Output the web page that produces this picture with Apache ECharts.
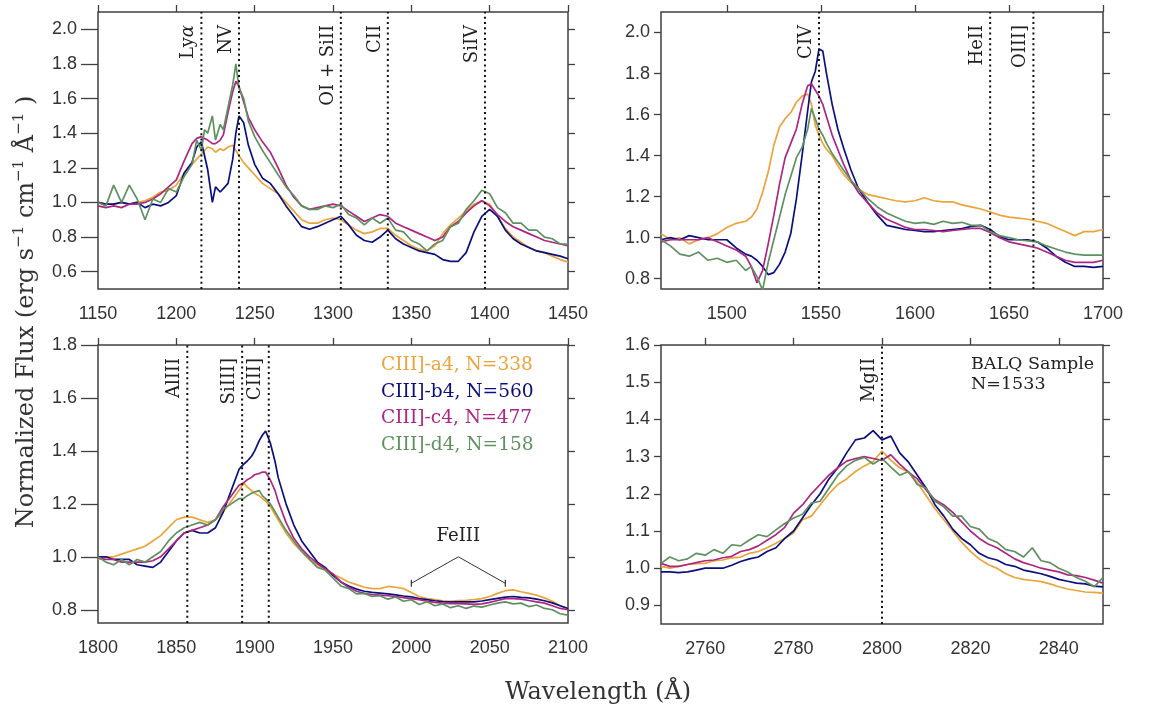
<!DOCTYPE html>
<html>
<head>
<meta charset="utf-8">
<script src="https://cdn.jsdelivr.net/npm/echarts@6/dist/echarts.min.js"></script>
<style>
  html, body { margin: 0; padding: 0; background: #fff; }
  #chart { width: 1168px; height: 709px; }
</style>
</head>
<body>
<div id="chart"></div>
<script>
// ---- data ----
// panel 1 : Ly-alpha ... SiIV region
const wave1 = [1150,1155,1160,1165,1170,1175,1180,1185,1190,1195,1200,1205,1210,
  1213,1216,1218,1220,1223,1225,1228,1230,1233,1236,1238,1240,1243,1246,
  1250,1255,1260,1265,1270,1275,1280,1285,1290,1295,
  1300,1305,1310,1315,1320,1325,1330,1335,1340,1345,1350,1355,1360,1365,1370,1375,1380,1385,1390,1395,1400,1405,1410,1415,1420,1425,1430,1435,1440,1445,1450]
const a1 = [1.00,0.99,0.99,1.00,0.99,1.00,1.01,1.03,1.06,1.07,1.10,1.17,1.22,
  1.25,1.28,1.30,1.32,1.31,1.29,1.31,1.30,1.32,1.33,1.30,1.27,1.23,1.20,
  1.16,1.11,1.08,1.05,1.00,0.95,0.90,0.88,0.88,0.90,
  0.91,0.90,0.87,0.84,0.82,0.83,0.85,0.85,0.81,0.78,0.75,0.73,0.72,0.75,0.82,0.87,0.91,0.95,0.99,1.01,0.99,0.92,0.85,0.80,0.77,0.74,0.72,0.71,0.69,0.67,0.655]
const b1 = [1.00,0.99,0.99,1.00,0.99,1.00,0.97,0.99,0.98,1.00,1.04,1.17,1.23,
  1.32,1.35,1.27,1.19,1.00,1.09,1.06,1.08,1.11,1.25,1.40,1.50,1.46,1.33,
  1.22,1.14,1.11,1.05,0.98,0.92,0.86,0.845,0.86,0.88,
  0.90,0.92,0.87,0.81,0.78,0.77,0.80,0.84,0.79,0.76,0.74,0.72,0.71,0.70,0.67,0.66,0.66,0.71,0.83,0.92,0.96,0.92,0.84,0.79,0.76,0.74,0.72,0.71,0.70,0.69,0.675]
const c1 = [0.98,0.97,0.98,0.97,0.99,0.99,1.00,1.02,1.05,1.09,1.13,1.24,1.34,
  1.37,1.38,1.37,1.36,1.34,1.34,1.36,1.39,1.52,1.64,1.70,1.67,1.58,1.49,
  1.42,1.35,1.29,1.20,1.10,1.03,0.98,0.96,0.97,0.98,
  0.99,0.98,0.95,0.92,0.89,0.91,0.93,0.92,0.88,0.86,0.84,0.82,0.80,0.78,0.80,0.86,0.89,0.94,0.98,1.01,0.98,0.93,0.89,0.86,0.84,0.82,0.80,0.78,0.77,0.76,0.75]
const d1 = [1.00,0.98,1.10,1.00,1.10,1.02,0.90,1.02,1.00,1.08,1.06,1.15,1.22,
  1.36,1.30,1.42,1.40,1.50,1.36,1.45,1.42,1.55,1.68,1.80,1.66,1.60,1.47,
  1.38,1.30,1.23,1.16,1.09,1.04,0.98,0.96,0.96,0.98,
  0.97,0.99,0.93,0.91,0.87,0.91,0.88,0.91,0.84,0.83,0.78,0.76,0.72,0.76,0.78,0.86,0.88,0.96,1.01,1.07,1.05,0.97,0.94,0.88,0.88,0.84,0.84,0.80,0.79,0.76,0.76]

// panel 2 : CIV region
const wave2 = [1465,1470,1475,1480,1485,1490,1495,1500,1505,1510,
  1513,1516,1519,1522,1525,1528,1531,1534,1537,1540,1543,
  1545,1547,1549,1551,1553,1556,1559,1562,1566,1570,
  1575,1580,1585,1590,1595,1600,1605,1610,1615,1620,1625,1630,1635,1640,1645,1650,1655,1660,1665,1670,1675,1680,1685,1690,1695,1700]
const a2 = [1.02,0.99,1.00,0.97,0.99,1.00,1.02,1.05,1.07,1.08,
  1.10,1.14,1.22,1.32,1.45,1.54,1.58,1.61,1.66,1.69,1.70,
  1.65,1.55,1.50,1.46,1.43,1.40,1.35,1.31,1.27,1.235,
  1.21,1.20,1.19,1.18,1.175,1.18,1.195,1.18,1.175,1.175,1.16,1.15,1.14,1.125,1.11,1.10,1.095,1.09,1.08,1.07,1.05,1.03,1.01,1.03,1.03,1.04]
const b2 = [0.99,1.00,0.99,1.01,1.00,0.99,0.99,0.99,0.95,0.92,
  0.91,0.89,0.86,0.82,0.83,0.87,0.93,1.02,1.19,1.40,1.62,
  1.76,1.81,1.92,1.91,1.80,1.65,1.53,1.44,1.33,1.24,
  1.17,1.11,1.06,1.05,1.04,1.035,1.03,1.03,1.035,1.04,1.045,1.055,1.06,1.04,1.005,0.99,0.99,0.99,0.98,0.95,0.91,0.88,0.86,0.86,0.855,0.86]
const c2 = [0.98,0.99,0.99,0.99,0.99,1.00,0.98,0.96,0.94,0.91,
  0.86,0.78,0.84,0.97,1.11,1.26,1.39,1.46,1.53,1.65,1.74,
  1.75,1.72,1.69,1.65,1.59,1.50,1.43,1.36,1.28,1.22,
  1.17,1.12,1.09,1.07,1.05,1.04,1.04,1.035,1.03,1.035,1.04,1.045,1.045,1.025,1.00,0.98,0.97,0.96,0.95,0.93,0.91,0.89,0.88,0.88,0.88,0.89]
const d2 = [0.99,0.96,0.92,0.91,0.93,0.89,0.90,0.88,0.89,0.84,
  0.86,0.81,0.745,0.88,0.99,1.10,1.21,1.30,1.39,1.44,1.53,
  1.63,1.58,1.53,1.50,1.46,1.41,1.37,1.33,1.28,1.24,
  1.19,1.15,1.12,1.10,1.08,1.07,1.075,1.065,1.08,1.07,1.075,1.06,1.06,1.03,1.01,1.00,0.99,0.985,0.98,0.96,0.945,0.93,0.92,0.915,0.915,0.915]

// panel 3 : CIII] region
const wave3 = [1800,1805,1810,1815,1820,1825,1830,1835,1840,1845,1850,1855,1860,1865,1870,1875,1880,1885,
  1890,1893,1895,1898,1900,1903,1905,1907,1910,1913,1915,
  1920,1925,1930,1935,1940,1945,1950,1955,1960,1965,1970,1975,1980,1985,1990,1995,2000,2005,2010,2015,2020,2025,2030,2035,2040,2045,2050,2055,2060,2065,2070,2075,2080,2085,2090,2095,2100]
const a3 = [0.99,1.00,1.00,1.01,1.02,1.03,1.04,1.06,1.08,1.11,1.14,1.15,1.15,1.14,1.13,1.14,1.17,1.21,
  1.25,1.28,1.265,1.25,1.24,1.23,1.22,1.21,1.19,1.16,1.14,
  1.09,1.05,1.02,0.99,0.97,0.95,0.935,0.92,0.905,0.895,0.885,0.88,0.88,0.888,0.885,0.88,0.865,0.85,0.842,0.838,0.834,0.832,0.835,0.836,0.838,0.842,0.85,0.862,0.872,0.875,0.868,0.862,0.855,0.845,0.832,0.815,0.805]
const b3 = [1.00,1.00,0.99,0.99,0.99,0.97,0.965,0.96,0.98,1.02,1.06,1.09,1.10,1.09,1.09,1.11,1.17,1.25,
  1.33,1.35,1.36,1.38,1.40,1.44,1.46,1.475,1.43,1.36,1.30,
  1.20,1.12,1.06,1.02,0.98,0.96,0.93,0.905,0.89,0.878,0.87,0.866,0.863,0.86,0.856,0.852,0.849,0.842,0.838,0.834,0.831,0.83,0.83,0.83,0.83,0.833,0.838,0.843,0.848,0.85,0.847,0.845,0.84,0.834,0.826,0.815,0.805]
const c3 = [0.995,0.99,0.99,0.98,0.98,0.98,0.98,0.985,1.00,1.03,1.06,1.09,1.10,1.11,1.12,1.14,1.19,1.23,
  1.27,1.28,1.29,1.30,1.31,1.315,1.32,1.32,1.29,1.25,1.21,
  1.13,1.07,1.03,1.00,0.975,0.955,0.935,0.905,0.885,0.87,0.862,0.857,0.855,0.853,0.85,0.846,0.842,0.838,0.832,0.828,0.825,0.823,0.823,0.822,0.82,0.822,0.828,0.835,0.842,0.842,0.84,0.835,0.83,0.825,0.815,0.805,0.80]
const d3 = [1.00,0.98,0.97,0.99,0.97,0.99,0.98,1.00,1.02,1.06,1.09,1.11,1.12,1.13,1.12,1.14,1.18,1.20,
  1.22,1.22,1.23,1.24,1.245,1.25,1.23,1.22,1.20,1.17,1.15,
  1.10,1.06,1.02,0.99,0.96,0.95,0.92,0.89,0.88,0.86,0.862,0.85,0.853,0.84,0.848,0.832,0.838,0.82,0.83,0.815,0.822,0.808,0.815,0.805,0.814,0.81,0.818,0.825,0.83,0.822,0.825,0.812,0.818,0.805,0.80,0.785,0.78]

// panel 4 : MgII region
const wave4 = [2750,2752,2754,2756,2758,2760,2762,2764,2766,2768,2770,2772,2774,2776,2778,2780,2782,2784,2786,2788,
  2790,2792,2794,2796,2798,2800,2802,2804,2806,2808,2810,2812,2814,2816,2818,2820,2822,2824,2826,2828,
  2830,2832,2834,2836,2838,2840,2842,2844,2846,2848,2850]
const a4 = [1.005,1.0,1.005,1.01,1.012,1.013,1.02,1.022,1.028,1.03,1.04,1.045,1.055,1.067,1.08,1.095,1.13,1.14,1.17,1.20,
  1.225,1.24,1.26,1.275,1.287,1.315,1.29,1.27,1.258,1.23,1.195,1.16,1.13,1.10,1.07,1.045,1.025,1.01,1.0,0.985,
  0.975,0.97,0.967,0.964,0.958,0.95,0.944,0.94,0.936,0.935,0.933]
const b4 = [0.99,0.99,0.988,0.99,0.995,1.0,1.0,1.0,1.008,1.018,1.025,1.03,1.045,1.055,1.08,1.10,1.135,1.17,1.20,1.24,
  1.27,1.31,1.345,1.35,1.37,1.345,1.355,1.31,1.285,1.25,1.215,1.17,1.14,1.105,1.08,1.063,1.04,1.028,1.022,1.01,
  1.005,0.995,0.99,0.985,0.978,0.97,0.965,0.96,0.958,0.952,0.95]
const c4 = [1.013,1.005,1.005,1.01,1.015,1.02,1.022,1.028,1.032,1.045,1.05,1.06,1.075,1.09,1.11,1.148,1.17,1.20,1.225,1.25,
  1.27,1.288,1.295,1.30,1.295,1.29,1.305,1.28,1.258,1.24,1.21,1.184,1.17,1.15,1.125,1.10,1.08,1.065,1.055,1.04,
  1.025,1.015,1.008,1.0,0.995,0.99,0.982,0.98,0.975,0.968,0.96]
const d4 = [1.013,1.03,1.02,1.025,1.04,1.035,1.05,1.04,1.063,1.06,1.076,1.09,1.085,1.103,1.12,1.135,1.145,1.175,1.18,1.215,
  1.25,1.275,1.29,1.298,1.28,1.295,1.272,1.25,1.26,1.225,1.215,1.18,1.165,1.14,1.14,1.112,1.105,1.08,1.07,1.05,
  1.045,1.03,1.055,1.02,1.015,1.0,0.99,0.975,0.965,0.95,0.975]

// emission line markers
const lines1 = [1216, 1240, 1305, 1335, 1397]
const names1 = ['Ly{it|α}', 'NV', 'OI + SiII', 'CII', 'SiIV']
const lines2 = [1549, 1640, 1663]
const names2 = ['CIV', 'HeII', 'OIII]']
const lines3 = [1857, 1892, 1909]
const names3 = ['AlIII', 'SiIII]', 'CIII]']
const lines4 = [2800]
const names4 = ['MgII']

// FeIII bracket in panel 3
const feX = [2000, 2030, 2060]
const feY = [0.9, 1.0, 0.9]

// tick labels
const xTicks1 = [1150, 1200, 1250, 1300, 1350, 1400, 1450]
const xTicks2 = [1500, 1550, 1600, 1650, 1700]
const xTicks3 = [1800, 1850, 1900, 1950, 2000, 2050, 2100]
const xTicks4 = [2760, 2780, 2800, 2820, 2840]
const yTicks1 = [0.6, 0.8, 1.0, 1.2, 1.4, 1.6, 1.8, 2.0]
const yTicks2 = [0.8, 1.0, 1.2, 1.4, 1.6, 1.8, 2.0]
const yTicks3 = [0.8, 1.0, 1.2, 1.4, 1.6, 1.8]
const yTicks4 = [0.9, 1.0, 1.1, 1.2, 1.3, 1.4, 1.5, 1.6]

const groups = ['CIII]-a4, N=338', 'CIII]-b4, N=560', 'CIII]-c4, N=477', 'CIII]-d4, N=158']
const colors = ['#eba43a', '#0c0f7e', '#ad2683', '#5f9160']

// ---- layout ----
const panels = [
  { wave: wave1, flux: [a1, b1, c1, d1], x: [1150, 1450], y: [0.5, 2.1], xTicks: xTicks1, yTicks: yTicks1, lines: lines1, names: names1,
    grid: { left: 98, top: 12, width: 470, height: 277 }, tickLen: 17 },
  { wave: wave2, flux: [a2, b2, c2, d2], x: [1465, 1700], y: [0.75, 2.1], xTicks: xTicks2, yTicks: yTicks2, lines: lines2, names: names2,
    grid: { left: 661, top: 12, width: 442, height: 277 }, tickLen: 7 },
  { wave: wave3, flux: [a3, b3, c3, d3], x: [1800, 2100], y: [0.75, 1.8], xTicks: xTicks3, yTicks: yTicks3, lines: lines3, names: names3,
    grid: { left: 98, top: 345, width: 470, height: 278 }, tickLen: 17 },
  { wave: wave4, flux: [a4, b4, c4, d4], x: [2750, 2850], y: [0.85, 1.6], xTicks: xTicks4, yTicks: yTicks4, lines: lines4, names: names4,
    grid: { left: 661, top: 345, width: 442, height: 279 }, tickLen: 7 }
]

const frame = '#404040'
const tickFont = { color: '#333', fontSize: 18, fontFamily: 'Liberation Sans' }
const serif = '"DejaVu Serif", serif'

const grids = []
const xAxes = []
const yAxes = []
const series = []

panels.forEach((p, i) => {
  grids.push(Object.assign({ show: true, borderColor: frame, borderWidth: 1.5, backgroundColor: 'transparent', outerBoundsMode: 'none' }, p.grid))

  // bottom axis with labels, top axis with ticks only
  xAxes.push({
    type: 'value', gridIndex: i, position: 'bottom', min: p.x[0], max: p.x[1],
    axisLine: { show: false }, splitLine: { show: false }, axisTick: { show: false },
    axisLabel: Object.assign({ customValues: p.xTicks, margin: 16, formatter: v => String(v) }, tickFont)
  })
  xAxes.push({
    type: 'value', gridIndex: i, position: 'top', min: p.x[0], max: p.x[1],
    axisLine: { show: false }, splitLine: { show: false }, axisLabel: { show: false },
    axisTick: { show: true, inside: false, length: 7, customValues: p.xTicks, lineStyle: { color: frame, width: 1.3 } }
  })
  yAxes.push({
    type: 'value', gridIndex: i, position: 'left', min: p.y[0], max: p.y[1],
    axisLine: { show: false }, splitLine: { show: false },
    axisTick: { show: true, inside: false, length: p.tickLen, customValues: p.yTicks, lineStyle: { color: frame, width: 1.3 } },
    axisLabel: Object.assign({ customValues: p.yTicks, margin: p.tickLen + 4, formatter: v => v.toFixed(1) }, tickFont)
  })
  yAxes.push({
    type: 'value', gridIndex: i, position: 'right', min: p.y[0], max: p.y[1],
    axisLine: { show: false }, splitLine: { show: false }, axisLabel: { show: false },
    axisTick: { show: true, inside: false, length: 7, customValues: p.yTicks, lineStyle: { color: frame, width: 1.3 } }
  })

  p.flux.forEach((f, k) => {
    series.push({
      type: 'line', xAxisIndex: 2 * i, yAxisIndex: 2 * i,
      data: p.wave.map((w, j) => [w, f[j]]),
      symbol: 'none', silent: true, z: 2 + k,
      lineStyle: { color: colors[k], width: 1.7 }
    })
  })

  p.lines.forEach(l => {
    series.push({
      type: 'line', xAxisIndex: 2 * i, yAxisIndex: 2 * i,
      data: [[l, p.y[0]], [l, p.y[1]]],
      symbol: 'none', silent: true, z: 8,
      lineStyle: { color: '#111', width: 2, type: [2, 3.3] }
    })
  })
})

// FeIII bracket
series.push({
  type: 'line', xAxisIndex: 4, yAxisIndex: 4, z: 9, silent: true,
  data: feX.map((x, j) => ({ value: [x, feY[j]], symbol: j === 1 ? 'none' : 'rect' })),
  symbolSize: [1.2, 7], showAllSymbol: true,
  itemStyle: { color: '#333' },
  lineStyle: { color: '#333', width: 1 }
})

const chart = echarts.init(document.getElementById('chart'))
chart.setOption({
  animation: false,
  backgroundColor: '#fff',
  grid: grids,
  xAxis: xAxes,
  yAxis: yAxes,
  series: series
})

// ---- text: line names, legend, titles ----
const graphic = []
panels.forEach((p, i) => {
  p.lines.forEach((l, k) => {
    const pt = chart.convertToPixel({ xAxisIndex: 2 * i, yAxisIndex: 2 * i }, [l, p.y[1]])
    graphic.push({
      type: 'text', x: pt[0] - 4, y: pt[1] + 13, rotation: Math.PI / 2, z: 20,
      style: {
        text: p.names[k], fontSize: 18, fontFamily: serif, fill: '#222',
        align: 'right', verticalAlign: 'bottom',
        rich: { it: { fontSize: 18, fontFamily: serif, fontStyle: 'italic', fill: '#222' } }
      }
    })
  })
})

groups.forEach((t, k) => {
  graphic.push({
    type: 'text', x: 381, y: 365 + k * 26.8, z: 20,
    style: { text: t, fontSize: 18.6, fontFamily: serif, fill: colors[k], align: 'left', verticalAlign: 'middle' }
  })
})

graphic.push({
  type: 'text', x: 971, y: 374, z: 20,
  style: { text: 'BALQ Sample\nN=1533', fontSize: 17.5, fontFamily: serif, fill: '#222', lineHeight: 20, align: 'left', verticalAlign: 'middle' }
})

const fePt = chart.convertToPixel({ xAxisIndex: 4, yAxisIndex: 4 }, [2030, 1.077])
graphic.push({
  type: 'text', x: fePt[0], y: fePt[1], z: 20,
  style: { text: 'FeIII', fontSize: 18, fontFamily: serif, fill: '#222', align: 'center', verticalAlign: 'middle' }
})

graphic.push({
  type: 'text', x: 598, y: 693, z: 20,
  style: { text: 'Wavelength (Å)', fontSize: 24, fontFamily: serif, fill: '#333', align: 'center', verticalAlign: 'middle' }
})

graphic.push({
  type: 'text', x: 27, y: 312, rotation: Math.PI / 2, z: 20,
  style: {
    text: 'Normalized Flux (erg s{s|−1} cm{s|−1} Å{s|−1} )',
    fontSize: 24, fontFamily: serif, fill: '#333', lineHeight: 30,
    align: 'center', verticalAlign: 'middle',
    rich: { s: { fontSize: 15, fontFamily: serif, fill: '#333', lineHeight: 16, verticalAlign: 'top' } }
  }
})

chart.setOption({ graphic: graphic })
</script>
</body>
</html>
